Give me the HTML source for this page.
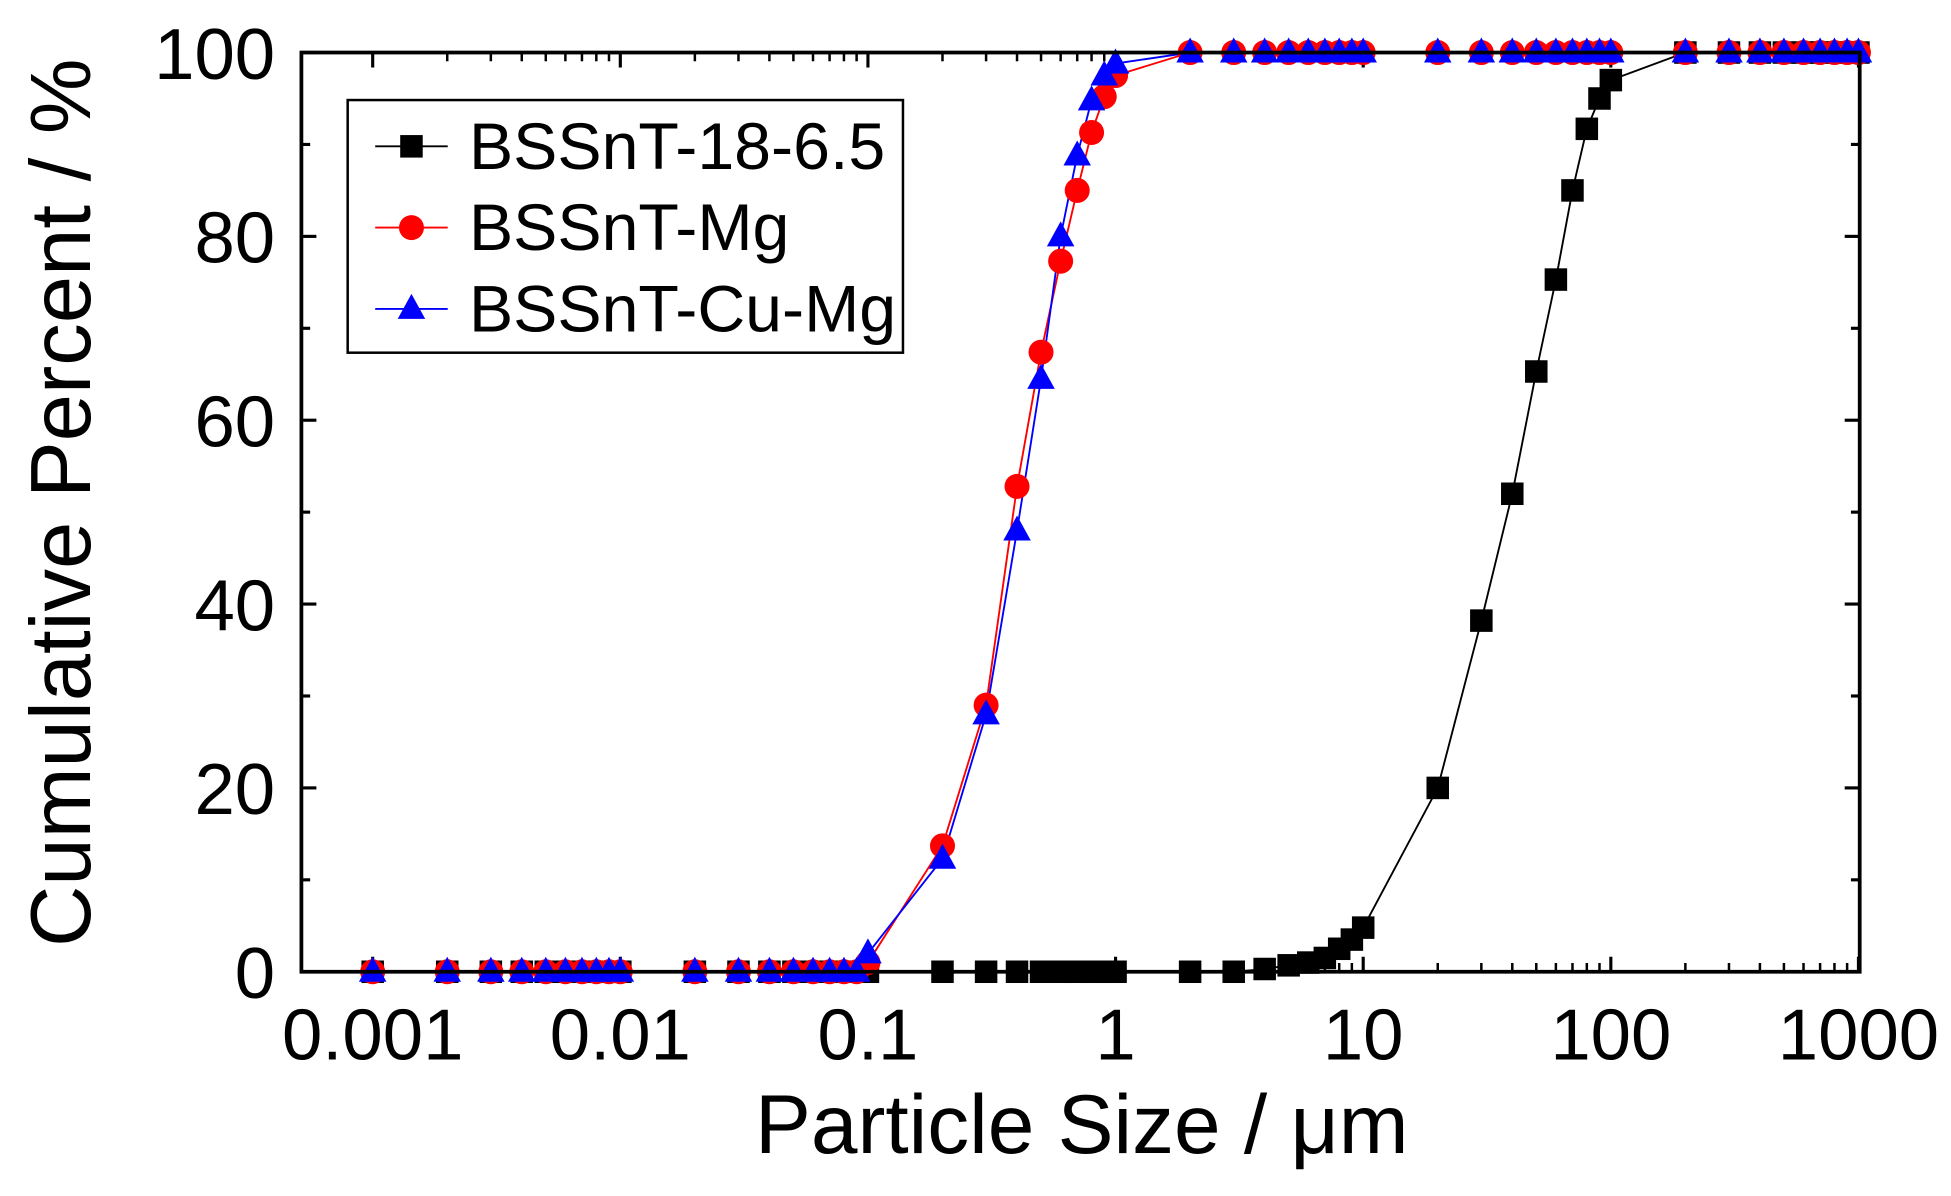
<!DOCTYPE html>
<html><head><meta charset="utf-8"><style>html,body{margin:0;padding:0;background:#fff}svg{display:block}</style></head>
<body>
<svg id="s" xmlns="http://www.w3.org/2000/svg" width="1951" height="1196" viewBox="0 0 1560 956.3" preserveAspectRatio="none" font-family="Liberation Sans, Arial, sans-serif">
<rect width="1560" height="956.3" fill="#fff"/>
<g id="g"></g>
<rect x="241" y="42" width="1246" height="735" fill="none" stroke="#000" stroke-width="3"/>
<g font-size="58" text-anchor="middle" fill="#000">
<text x="298" y="847">0.001</text><text x="496" y="847">0.01</text><text x="694" y="847">0.1</text>
<text x="892" y="847">1</text><text x="1090" y="847">10</text><text x="1288" y="847">100</text><text x="1486" y="847">1000</text>
</g>
<g font-size="58" text-anchor="end" fill="#000">
<text x="220" y="798">0</text><text x="220" y="651">20</text><text x="220" y="504">40</text>
<text x="220" y="357">60</text><text x="220" y="210">80</text><text x="220" y="63">100</text>
</g>
<text x="865" y="922" font-size="67" text-anchor="middle">Particle Size / μm</text>
<text transform="translate(72,402) rotate(-90)" font-size="68" text-anchor="middle">Cumulative Percent  / %</text>
<rect x="278" y="80" width="444" height="202" fill="#fff" stroke="#000" stroke-width="2"/>
<g font-size="53">
<text x="375" y="135">BSSnT-18-6.5</text><text x="375" y="200">BSSnT-Mg</text><text x="375" y="265">BSSnT-Cu-Mg</text>
</g>
<g id="leg"></g>
</svg>
<script>
var NS="http://www.w3.org/2000/svg",g=document.getElementById('g'),leg=document.getElementById('leg');
function X(v){return 892+Math.log10(v)*198;}function Y(p){return 777-p*7.35;}
function el(t,a,p){var e=document.createElementNS(NS,t);for(var k in a)e.setAttribute(k,a[k]);(p||g).appendChild(e);return e;}
for(var d=-3;d<=3;d++){var x=X(Math.pow(10,d));el('line',{x1:x,y1:777,x2:x,y2:765,stroke:'#000','stroke-width':2.5});el('line',{x1:x,y1:42,x2:x,y2:54,stroke:'#000','stroke-width':2.5});
 if(d<3)for(var m=2;m<10;m++){x=X(m*Math.pow(10,d));el('line',{x1:x,y1:777,x2:x,y2:770,stroke:'#000','stroke-width':2});el('line',{x1:x,y1:42,x2:x,y2:49,stroke:'#000','stroke-width':2});}}
for(var k=0;k<=10;k++){var y=Y(k*10),L=k%2?7:12;el('line',{x1:241,y1:y,x2:241+L,y2:y,stroke:'#000','stroke-width':2.5});el('line',{x1:1487,y1:y,x2:1487-L,y2:y,stroke:'#000','stroke-width':2.5});}
function seq(a,b,st){var r=[];for(var i=a;i<=b;i++)r.push(i*st);return r;}
var small=[].concat(seq(1,9,0.001),seq(1,9,0.01));
var black=small.map(function(v){return[v,0]}).concat(seq(1,9,0.1).map(function(v){return[v,0]}),[[1,0],[2,0],[3,0],[4,0.3],[5,0.7],[6,1],[7,1.5],[8,2.5],[9,3.5],[10,4.8],[20,20],[30,38.2],[40,52],[50,65.3],[60,75.3],[70,85],[80,91.7],[90,95],[100,97],[200,100],[300,100],[400,100],[500,100],[600,100],[700,100],[800,100],[900,100],[1000,100]]);
var hi=seq(2,10,1).concat(seq(2,10,10),seq(2,10,100)).map(function(v){return[v,100]});
var red=small.map(function(v){return[v,0]}).concat([[0.1,1],[0.2,13.7],[0.3,29],[0.4,52.8],[0.5,67.4],[0.6,77.3],[0.7,85],[0.8,91.3],[0.9,95.2],[1,97.5]],hi);
var blue=small.map(function(v){return[v,0]}).concat([[0.1,2],[0.2,12.3],[0.3,28],[0.4,48],[0.5,64.5],[0.6,80],[0.7,88.8],[0.8,94.8],[0.9,97.5],[1,98.8]],hi);
function line(d,c){el('polyline',{points:d.map(function(p){return X(p[0])+','+Y(p[1])}).join(' '),fill:'none',stroke:c,'stroke-width':1.5});}
function sq(x,y,c,p){el('rect',{x:x-9,y:y-9,width:18,height:18,fill:c},p);}
function ci(x,y,c,p){el('circle',{cx:x,cy:y,r:10,fill:c},p);}
function tr(x,y,c,p){el('polygon',{points:(x)+','+(y-12)+' '+(x-11)+','+(y+8)+' '+(x+11)+','+(y+8),fill:c},p);}
line(black,'#000');line(red,'#f00');line(blue,'#00f');
black.forEach(function(p){sq(X(p[0]),Y(p[1]),'#000')});
red.forEach(function(p){ci(X(p[0]),Y(p[1]),'#f00')});
blue.forEach(function(p){tr(X(p[0]),Y(p[1]),'#00f')});
[[117,'#000',sq],[182,'#f00',ci],[247,'#00f',tr]].forEach(function(a){el('line',{x1:300,y1:a[0],x2:358,y2:a[0],stroke:a[1],'stroke-width':1.5},leg);a[2](329,a[0],a[1],leg);});
</script>
</body></html>
